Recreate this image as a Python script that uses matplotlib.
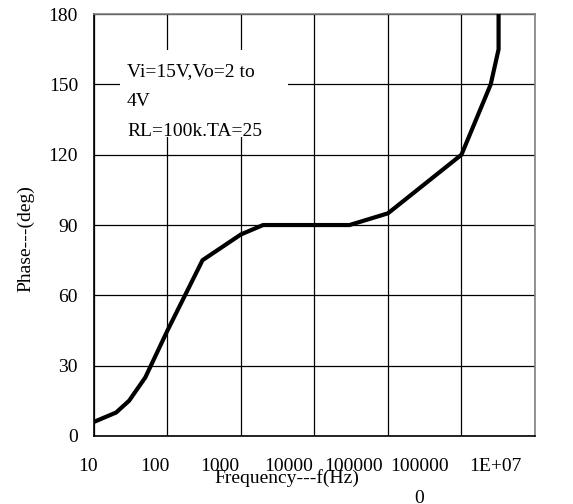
import matplotlib
matplotlib.use("Agg")
import matplotlib.pyplot as plt
import matplotlib.transforms as mtransforms
from matplotlib.patches import Rectangle

plt.rcParams['font.family'] = ['Liberation Serif', 'DejaVu Serif']

# data
freq = [10, 20, 30, 50, 100, 300, 1000, 2000, 30000, 100000, 1000000, 2500000, 3200000, 3200000]
phase = [6, 10, 15, 25, 45, 75, 86, 90, 90, 95, 120, 150, 165, 180]

xticks = [10, 100, 1000, 10000, 100000, 1000000, 10000000]
xtick_labels = ["10", "100", "1000", "10000", "100000", "100000\n0", "1E+07"]
yticks = [0, 30, 60, 90, 120, 150, 180]

fig = plt.figure(figsize=(5.73, 5.04), dpi=100)
ax = fig.add_axes([0.164, 0.135, 0.7696, 0.837])

ax.plot(freq, phase, color="black", lw=3.0, zorder=5, solid_joinstyle="miter")
ax.set_xscale("log")
ax.set_xlim(10, 1e7)
ax.set_ylim(0, 180)
ax.set_xticks(xticks)
ax.set_xticklabels(xtick_labels, fontsize=14, linespacing=2.15, va="top")
ax.xaxis.set_minor_locator(matplotlib.ticker.NullLocator())
ax.set_yticks(yticks)
ax.set_yticklabels([str(v) for v in yticks], fontsize=14)
ax.tick_params(length=0)
ax.tick_params(axis="x", pad=16)
ax.tick_params(axis="y", pad=11.5)
ax.grid(True, color="black", lw=0.9)
ax.set_axisbelow(True)

# shift the x tick labels left like the original
shifts = [-6, -13, -21, -26, -34, -42, -40]
for lab, dx in zip(ax.get_xticklabels(), shifts):
    lab.set_transform(lab.get_transform() + mtransforms.ScaledTranslation(dx / 100, 0, fig.dpi_scale_trans))

for s in ["top", "right"]:
    ax.spines[s].set_color("gray")
    ax.spines[s].set_linewidth(1.2)
for s in ["left", "bottom"]:
    ax.spines[s].set_color("black")
    ax.spines[s].set_linewidth(1.2)

ax.set_xlabel("Frequency---f(Hz)", fontsize=14)
ax.xaxis.set_label_coords(0.4376, -0.079)
ax.set_ylabel("Phase---(deg)", fontsize=14, va="center")
ax.yaxis.set_label_coords(-0.154, 0.469)

# white box behind the condition note
ax.add_patch(Rectangle((0.059, 0.709), 0.381, 0.206, transform=ax.transAxes,
                       facecolor="white", edgecolor="none", zorder=3))
ax.text(0.075, 0.884, "Vi=15V,Vo=2 to\n4V\nRL=100k.TA=25", transform=ax.transAxes,
        fontsize=14, va="top", ha="left", linespacing=2.0, zorder=4)

plt.savefig("out.png", dpi=100)
